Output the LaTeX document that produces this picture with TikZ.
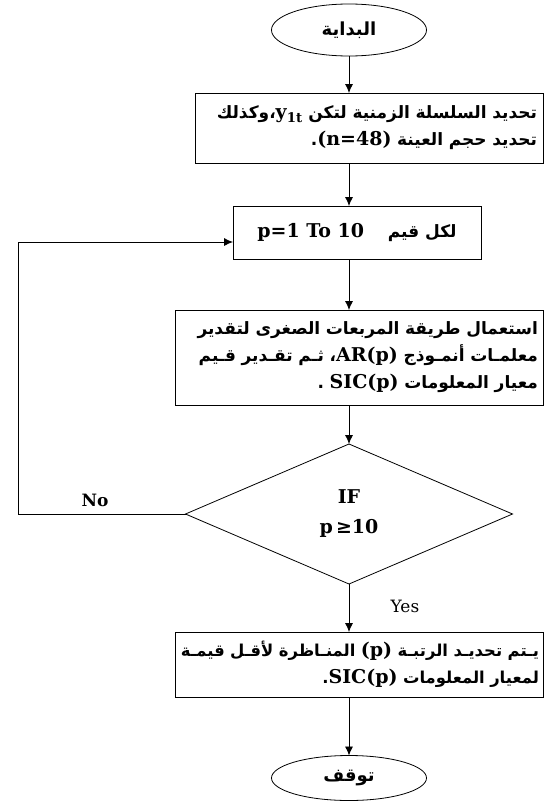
\documentclass[tikz,border=0pt]{standalone}
\usepackage{fontspec}
\usetikzlibrary{shapes.geometric,arrows.meta}
\setmainfont{DejaVu Serif}
\newfontfamily\arabicfont[Script=Arabic]{DejaVu Sans}
\newfontfamily\latfont{DejaVu Serif}
\newcommand\lt[1]{\beginL{\latfont\fontsize{19}{20}\selectfont #1}\endL}
\newcommand\rline[1]{\leavevmode\hbox to\linewidth{\hss\beginR #1\endR}}
\TeXXeTstate=1
\begin{document}
\begin{tikzpicture}[x=1pt,y=-1pt,
  box/.style={draw, line width=0.8pt, inner sep=0pt, outer sep=0pt, align=right,
    font=\arabicfont\bfseries\fontsize{17}{27}\selectfont},
  term/.style={draw, ellipse, line width=0.8pt, inner sep=0pt, outer sep=0pt,
    font=\arabicfont\bfseries\fontsize{18}{20}\selectfont},
  dec/.style={draw, diamond, line width=0.8pt, inner sep=0pt, outer sep=0pt,
    aspect=2.336, align=center, font=\latfont\bfseries\fontsize{19}{30}\selectfont},
  arr/.style={-{Latex[length=9pt,width=8pt]}, line width=0.8pt},
  lbl/.style={font=\latfont\bfseries\fontsize{17}{18}\selectfont, inner sep=0pt}]
\useasboundingbox (0,0) rectangle (551,811);
\coordinate (axis) at (349,0);
\node[term, minimum width=155, minimum height=52] (start) at (349,30) {\beginR البداية\endR};
\node[box, minimum width=348, minimum height=70, text width=336] (b1) at (369,128)
  {\rline{تحديد السلسلة الزمنية لتكن \lt{y\textsubscript{1t}}،وكذلك}\\
   \rline{تحديد حجم العينة \lt{(n=48)}.}};
\node[box, minimum width=248, minimum height=53, align=center] (b2) at (357,232.5)
  {\beginR لكل قيم \ \ \ \lt{p=1 To 10}\endR};
\node[box, minimum width=368, minimum height=95, text width=358] (b3) at (359,357.5)
  {\rline{استعمال طريقة المربعات الصغرى لتقدير}\\
   \rline{معلمـات أنمـوذج \lt{AR(p)}، ثـم تقـدير قـيم}\\
   \rline{معيار المعلومات \lt{SIC(p)}\ .}};
\node[dec, minimum width=327, minimum height=140] (dia) at (349,514)
  {IF\\p\,≥10};
\node[box, minimum width=368, minimum height=65, text width=360,
  font=\arabicfont\bfseries\fontsize{16.4}{27}\selectfont] (b4) at (359,664.5)
  {\rline{يـتم تحديـد الرتبـة \lt{(p)}\ المنـاظرة لأقـل قيمـة}\\
   \rline{لمعيار المعلومات \lt{SIC(p)}.}};
\node[term, minimum width=155, minimum height=45] (stop) at (349,778) {\beginR توقف\endR};
\coordinate (lc) at (18,514);
\draw[arr] (start.south) -- (start.south |- b1.north);
\draw[arr] (b1.south -| axis) -- (b2.north -| axis);
\draw[arr] (b2.south -| axis) -- (b3.north -| axis);
\draw[arr] (b3.south -| axis) -- (dia.north);
\draw[arr] (dia.south) -- (dia.south |- b4.north);
\draw[arr] (b4.south -| axis) -- (stop.north);
\draw[arr] (dia.west) -- (lc) |- ([yshift=-9.5pt]b2.west);
\node[lbl] (no) at (95,500) {No};
\node[lbl, font=\latfont\fontsize{17}{18}\selectfont] (yes) at (405,606) {Yes};
\end{tikzpicture}
\end{document}
